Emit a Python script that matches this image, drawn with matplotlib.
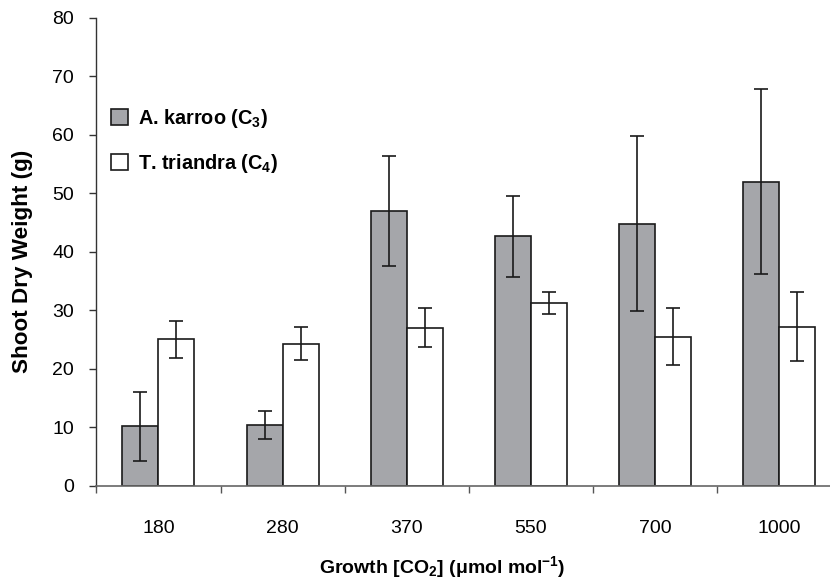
import matplotlib
matplotlib.use("Agg")
import matplotlib.pyplot as plt
import numpy as np
from matplotlib.patches import Patch

plt.rcParams['font.family'] = ['Liberation Sans', 'DejaVu Sans']
plt.rcParams['mathtext.fontset'] = 'custom'
plt.rcParams['mathtext.rm'] = 'Liberation Sans'
plt.rcParams['mathtext.bf'] = 'Liberation Sans:bold'
plt.rcParams['mathtext.it'] = 'Liberation Sans:italic'

categories = ['180', '280', '370', '550', '700', '1000']
c3_values = [10.2, 10.4, 47.0, 42.6, 44.8, 52.0]
c3_err = [5.9, 2.4, 9.4, 6.9, 14.9, 15.85]
c4_values = [25.0, 24.3, 27.0, 31.2, 25.5, 27.2]
c4_err = [3.1, 2.75, 3.35, 1.85, 4.8, 5.95]
yticks = [0, 10, 20, 30, 40, 50, 60, 70, 80]

fig = plt.figure(figsize=(8.3, 5.81), dpi=100)
ax = fig.add_axes([96.3/830, 1-485.7/581, (841.5-96.3)/830, (485.7-17.7)/581])

x = np.arange(len(categories)) + 0.5
w = 0.29
grey = '#a5a6aa'
ax.bar(x - w/2, c3_values, w, color=grey, edgecolor='#1a1a1a', linewidth=1.2,
       yerr=c3_err, error_kw=dict(ecolor='#1a1a1a', elinewidth=1.2, capsize=5, capthick=1.2))
ax.bar(x + w/2, c4_values, w, color='white', edgecolor='#1a1a1a', linewidth=1.2,
       yerr=c4_err, error_kw=dict(ecolor='#1a1a1a', elinewidth=1.2, capsize=5, capthick=1.2))

ax.set_xlim(0, len(categories))
ax.set_ylim(0, 80)
ax.set_yticks(yticks)
ax.tick_params(axis='y', direction='out', length=5, width=1, labelsize=14, pad=11, color='#333333')
ax.set_xticks(x)
ax.set_xticklabels(categories)
ax.tick_params(axis='x', which='major', length=0, labelsize=14, pad=25)
ax.set_xticks(np.arange(len(categories) + 1), minor=True)
ax.tick_params(axis='x', which='minor', direction='out', length=5, width=1, color='#555555')

for s in ['top', 'right']:
    ax.spines[s].set_visible(False)
ax.spines['left'].set_color('#333333')
ax.spines['bottom'].set_color('#666666')
ax.spines['left'].set_linewidth(1)
ax.spines['bottom'].set_linewidth(1.2)

fig.text(23/830, 1-261/581, 'Shoot Dry Weight (g)', rotation=90, ha='center', va='center',
         fontsize=16.2, fontweight='bold')
fig.text(442/830, 1-567/581, 'Growth [CO$_\\mathbf{2}$] (μmol mol$^\\mathbf{-1}$)', ha='center', va='center',
         fontsize=14, fontweight='bold')

handles = [Patch(facecolor=grey, edgecolor='#1a1a1a', linewidth=1.2),
           Patch(facecolor='white', edgecolor='#1a1a1a', linewidth=1.2)]
labels = ['A. karroo (C$_\\mathbf{3}$)', 'T. triandra (C$_\\mathbf{4}$)']
leg = ax.legend(handles, labels, loc='upper left', bbox_to_anchor=(111/830, 1-107/581),
                bbox_transform=fig.transFigure, frameon=False, handlelength=0.85, handleheight=0.85,
                borderpad=0, borderaxespad=0,
                handletextpad=0.5, labelspacing=1.1, prop=dict(size=14.3, weight='bold'))

fig.savefig('out.png', dpi=100)
